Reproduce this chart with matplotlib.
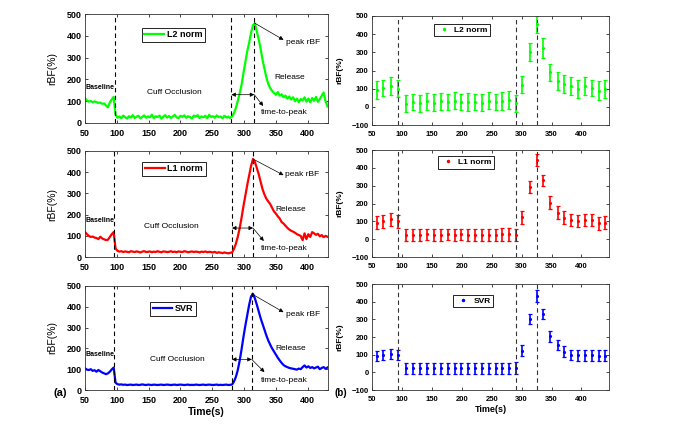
import numpy as np
import matplotlib
matplotlib.use('Agg')
import matplotlib.pyplot as plt

plt.rcParams['font.family'] = ['Liberation Sans', 'DejaVu Sans']

# ---------------- data: left panels (time series, 3 s sampling) ----------------
t_left = np.arange(50, 432, 3)

l2_base = [112, 104, 98, 101, 95, 99, 96, 92, 94, 88, 90, 80, 72, 95, 108, 120]
l2_occl = [38, 24, 30, 22, 34, 27, 20, 31, 25, 36,
           23, 29, 33, 21, 28, 35, 24, 30, 26, 38,
           22, 31, 27, 34, 20, 29, 36, 25, 32, 23,
           30, 37, 26, 22, 33, 28, 35, 24, 31, 27,
           21, 34, 29, 36, 23, 30, 26, 33, 22, 37,
           28, 31, 24, 35, 27, 30, 21, 33, 25, 29,
           23]
l2_rel = [30, 45, 68, 100, 135, 175, 230, 280, 330, 370,
          415, 450, 458, 420, 385, 340, 290, 250, 210, 180,
          160, 148, 138, 130, 142, 125, 132, 118, 126, 112,
          122, 108, 118, 100, 112, 96, 110, 104, 118, 98,
          112, 95, 115, 102, 120, 97, 110, 125, 140, 100,
          76]

l1_base = [118, 108, 100, 95, 97, 92, 90, 85, 96, 88, 84, 80, 82, 95, 108, 118]
l1_occl = [40, 30, 26, 28, 24, 27, 25, 23, 28, 26,
           24, 27, 25, 22, 26, 28, 24, 25, 27, 23,
           26, 24, 28, 25, 23, 27, 26, 24, 25, 28,
           24, 26, 23, 27, 25, 24, 28, 26, 23, 25,
           27, 24, 26, 25, 22, 26, 24, 27, 23, 25,
           24, 22, 25, 20, 23, 21, 19, 22, 20, 18,
           20]
l1_rel = [22, 38, 62, 95, 135, 185, 240, 290, 340, 385,
          430, 462, 448, 420, 390, 355, 320, 295, 275, 262,
          250, 232, 215, 205, 192, 182, 165, 158, 148, 138,
          130, 124, 120, 115, 108, 104, 100, 80, 112, 85,
          108, 95, 118, 112, 105, 110, 98, 104, 94, 100,
          96]

svr_base = [104, 98, 96, 100, 92, 95, 88, 96, 90, 84, 80, 76, 80, 88, 99, 108]
svr_occl = [35, 28, 26, 27, 25, 26, 24, 25, 26, 24,
            25, 26, 24, 25, 27, 25, 24, 26, 25, 24,
            26, 25, 24, 25, 26, 24, 25, 26, 25, 24,
            25, 26, 24, 25, 26, 25, 24, 25, 26, 24,
            25, 24, 26, 25, 24, 25, 26, 24, 25, 26,
            25, 24, 25, 26, 24, 25, 24, 25, 26, 24,
            25]
svr_rel = [26, 40, 62, 95, 140, 195, 255, 310, 360, 410,
           450, 462, 440, 410, 378, 345, 318, 290, 262, 238,
           218, 200, 185, 170, 155, 142, 130, 120, 114, 110,
           106, 104, 102, 100, 98, 103, 100, 110, 118, 108,
           114, 106, 110, 104, 108, 112, 100, 106, 110, 102,
           108]

# ---------------- data: right panels (mean +/- sd) ----------------
t_right = [58, 69, 81, 94, 107, 119, 130, 142, 153, 165, 177, 188, 199, 211, 222, 233, 245,
           257, 268, 279, 290, 301, 314, 325, 336, 348, 360, 371, 383, 394, 406, 417, 429, 440]

l2_mean = [93, 104, 115, 100, 18, 27, 20, 30, 24, 30, 27, 33, 27, 25, 27, 22, 33,
           27, 33, 38, 20, 122, 303, 453, 325, 190, 143, 125, 116, 100, 115, 104, 90, 98]
l2_err = [47, 46, 48, 47, 45, 46, 47, 47, 47, 47, 46, 47, 46, 49, 46, 47, 47,
          46, 48, 48, 48, 46, 48, 48, 55, 48, 48, 48, 49, 50, 48, 46, 50, 49]

l1_mean = [93, 102, 112, 102, 24, 26, 24, 27, 26, 26, 27, 24, 27, 25, 26, 22, 26,
           25, 27, 28, 25, 123, 294, 443, 331, 205, 149, 121, 108, 102, 108, 108, 89, 93]
l1_err = [35, 36, 35, 36, 33, 34, 34, 33, 34, 34, 33, 34, 33, 34, 33, 34, 34,
          33, 34, 35, 35, 35, 35, 35, 30, 35, 37, 35, 35, 35, 35, 35, 35, 35]

svr_mean = [93, 98, 104, 98, 23, 23, 23, 23, 23, 23, 23, 23, 23, 23, 23, 23, 23,
            23, 23, 23, 26, 123, 301, 430, 331, 203, 155, 117, 98, 97, 97, 96, 94, 95]
svr_err = [30, 30, 30, 30, 30, 30, 30, 30, 30, 30, 30, 30, 30, 30, 30, 30, 30,
           30, 30, 30, 34, 30, 30, 34, 30, 30, 30, 30, 30, 30, 30, 30, 30, 30]

labels = ['L2 norm', 'L1 norm', 'SVR']
colors = ['#00ff00', '#ff0000', '#0000ff']
left_vlines = [[97, 280, 316], [96, 281, 314], [96, 281, 312]]
right_vlines = [94, 290, 325]
peaks_t = [316, 314, 312]

series_left = [l2_base + l2_occl + l2_rel, l1_base + l1_occl + l1_rel, svr_base + svr_occl + svr_rel]
series_right = [(l2_mean, l2_err), (l1_mean, l1_err), (svr_mean, svr_err)]

# annotation positions per row (data coords)
ann = [
    dict(base_y=165, cuff=(191, 138), rel=(372, 207), peak_txt=(392, 368), peak_head=(362, 382),
         dbl_y=130, ttp_txt=(363, 50), ttp_head=(330, 78), peak_y=460),
    dict(base_y=173, cuff=(186, 145), rel=(374, 226), peak_txt=(391, 390), peak_head=(362, 386),
         dbl_y=137, ttp_txt=(363, 40), ttp_head=(331, 76), peak_y=462),
    dict(base_y=173, cuff=(195, 149), rel=(374, 200), peak_txt=(392, 361), peak_head=(362, 374),
         dbl_y=147, ttp_txt=(363, 48), ttp_head=(332, 86), peak_y=462),
]

fig = plt.figure(figsize=(6.77, 4.30), dpi=100)

left_pos = [(0.1256, 0.714, 0.359, 0.253), (0.1256, 0.402, 0.359, 0.247), (0.1256, 0.093, 0.359, 0.242)]
right_pos = [(0.5495, 0.709, 0.350, 0.254), (0.5495, 0.402, 0.350, 0.249), (0.5495, 0.093, 0.350, 0.2465)]
left_leg = [(0.233, 0.875), (0.235, 0.90), (0.267, 0.85)]
right_leg = [(0.263, 0.93), (0.28, 0.945), (0.343, 0.90)]


def style(ax, fs):
    ax.tick_params(direction='in', top=True, right=True, length=2.5, width=0.5,
                   labelsize=fs)
    ax.tick_params(axis='x', pad=4)
    ax.tick_params(axis='y', pad=2.5)
    for lab in ax.get_xticklabels() + ax.get_yticklabels():
        lab.set_fontweight('bold')
    for s in ax.spines.values():
        s.set_linewidth(0.6)
        s.set_color('#333333')


for i in range(3):
    # ---------- left ----------
    ax = fig.add_axes(left_pos[i])
    ax.plot(t_left, series_left[i], color=colors[i], lw=1.6, label=labels[i])
    for v in left_vlines[i]:
        ax.axvline(v, color='k', ls=(0, (4, 3)), lw=0.8)
    ax.set_xlim(50, 432)
    ax.set_ylim(0, 500)
    ax.set_xticks(np.arange(50, 401, 50))
    ax.set_yticks(np.arange(0, 501, 100))
    style(ax, 6.5)
    ax.set_ylabel('rBF(%)', fontsize=7.5)
    ax.yaxis.set_label_coords(-0.115, 0.5)
    leg = ax.legend(loc='upper left', bbox_to_anchor=left_leg[i], borderaxespad=0,
                    fancybox=False, edgecolor='k', framealpha=1,
                    prop={'size': 6.5, 'weight': 'bold'}, handlelength=2.2,
                    borderpad=0.3, handletextpad=0.3)
    leg.get_frame().set_linewidth(0.6)
    a = ann[i]
    ax.text(51, a['base_y'], 'Baseline', fontsize=5, fontweight='bold', ha='left', va='center')
    ax.text(a['cuff'][0], a['cuff'][1], 'Cuff Occlusion', fontsize=6, ha='center', va='center')
    ax.text(a['rel'][0], a['rel'][1], 'Release', fontsize=6, ha='center', va='center')
    ax.text(a['peak_txt'][0], a['peak_txt'][1], 'peak rBF', fontsize=6, ha='center', va='center')
    ax.text(a['ttp_txt'][0], a['ttp_txt'][1], 'time-to-peak', fontsize=6, ha='center', va='center')
    ax.annotate('', xy=a['peak_head'], xytext=(peaks_t[i], a['peak_y']),
                arrowprops=dict(arrowstyle='-|>', color='k', lw=0.5, mutation_scale=6,
                                shrinkA=0, shrinkB=0))
    ax.annotate('', xy=(peaks_t[i], a['dbl_y']), xytext=(left_vlines[i][1], a['dbl_y']),
                arrowprops=dict(arrowstyle='<|-|>', color='k', lw=0.5, mutation_scale=6,
                                shrinkA=0, shrinkB=0))
    ax.annotate('', xy=a['ttp_head'], xytext=(peaks_t[i], a['dbl_y']),
                arrowprops=dict(arrowstyle='-|>', color='k', lw=0.5, mutation_scale=6,
                                shrinkA=0, shrinkB=0))
    if i == 2:
        ax.set_xlabel('Time(s)', fontsize=7.5, fontweight='bold', labelpad=2)

    # ---------- right ----------
    axr = fig.add_axes(right_pos[i])
    m, e = series_right[i]
    axr.errorbar(t_right, m, yerr=e, fmt='.', color=colors[i], ms=2.5, capsize=1.6,
                 elinewidth=1.2, capthick=0.9, mec=colors[i])
    axr.plot([], [], '.', color=colors[i], ms=3, label=labels[i])
    for v in right_vlines:
        axr.axvline(v, color='#333333', ls=(0, (4, 3)), lw=0.8)
    axr.set_xlim(50, 446)
    axr.set_ylim(-100, 500)
    axr.set_xticks(np.arange(50, 401, 50))
    axr.set_yticks(np.arange(-100, 501, 100))
    style(axr, 5.5)
    axr.set_ylabel('rBF(%)', fontsize=6, fontweight='bold')
    axr.yaxis.set_label_coords(-0.122, 0.5)
    legr = axr.legend(loc='upper left', bbox_to_anchor=right_leg[i], borderaxespad=0,
                      fancybox=False, edgecolor='k', framealpha=1,
                      prop={'size': 6, 'weight': 'bold'}, handlelength=1.8,
                      borderpad=0.3, handletextpad=0.3)
    legr.get_frame().set_linewidth(0.6)
    if i == 2:
        axr.set_xlabel('Time(s)', fontsize=6.5, fontweight='bold', labelpad=2)

fig.text(60 / 677, 1 - 393 / 430, '(a)', fontsize=8, fontweight='bold', ha='center', va='center')
fig.text(341 / 677, 1 - 393 / 430, '(b)', fontsize=7, fontweight='bold', ha='center', va='center')

fig.savefig('out.png', dpi=100)
